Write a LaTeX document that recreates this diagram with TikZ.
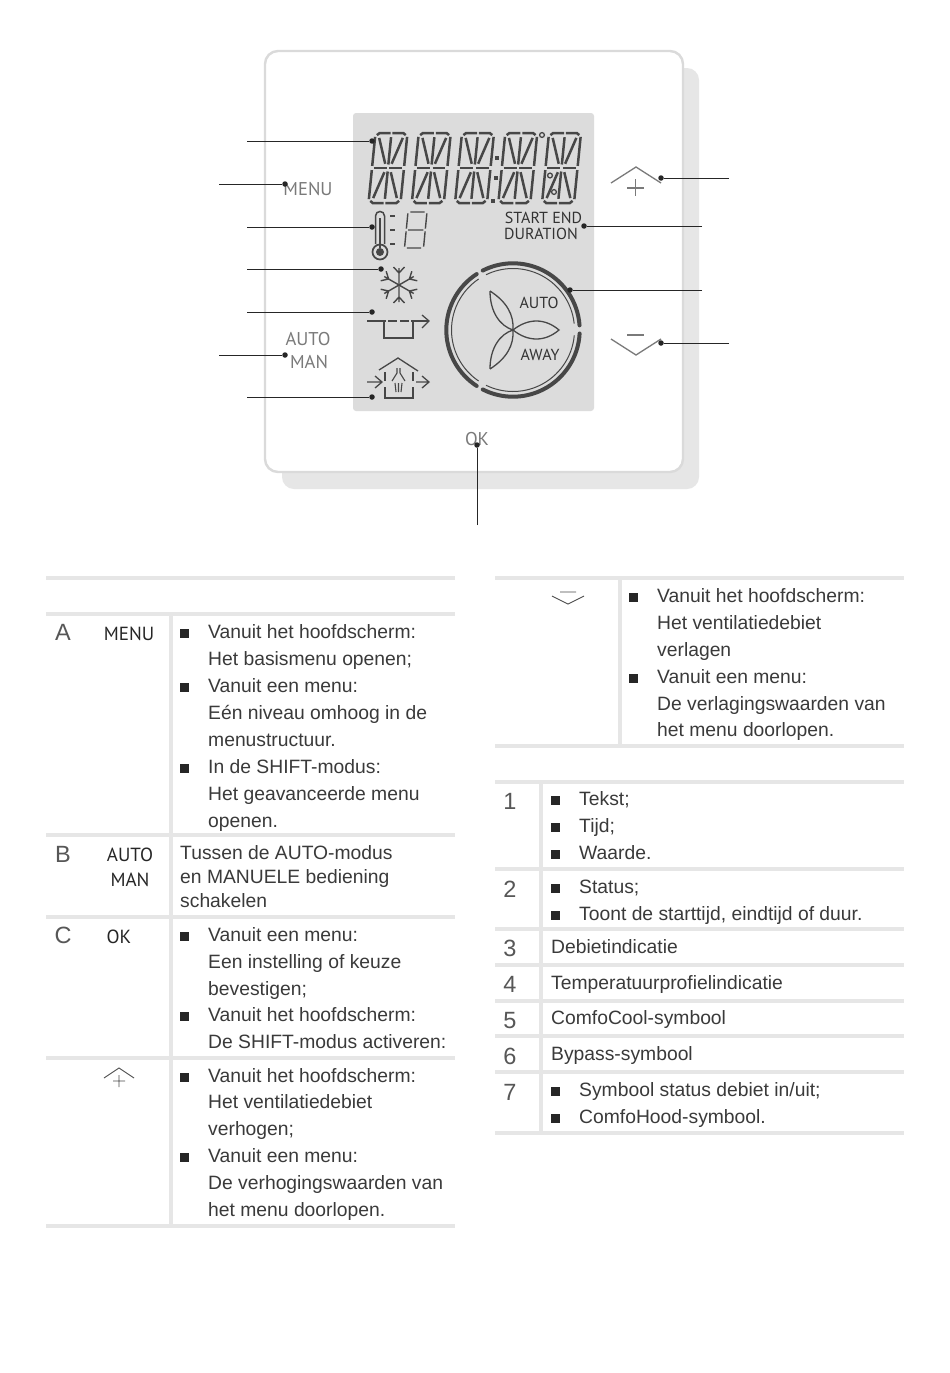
\documentclass[tikz,border=0pt]{standalone}
\usepackage{fontspec}
\setmainfont{Liberation Sans}
\newfontfamily\din{PT Sans}
\definecolor{rul}{HTML}{E6E6E6}
\definecolor{txt}{HTML}{3A3A3A}
\definecolor{lcdbg}{HTML}{DCDCDC}
\definecolor{lcdk}{HTML}{474747}
\definecolor{btn}{HTML}{7A7A7A}
\newcounter{tc}
\newcommand{\lin}[3]{\stepcounter{tc}\node[bodytxt] (t\arabic{tc}) at (#1,#2) {#3};}
\newcommand{\bul}[2]{\stepcounter{tc}\node[bulbox] (t\arabic{tc}) at (#1,#2-4.5) {};}
\newcommand{\bi}[3]{\bul{#1+.5}{#2}\lin{#1+24}{#2}{#3}}
\newcommand{\idx}[3]{\stepcounter{tc}\node[idxtxt] (t\arabic{tc}) at (#1,#2) {#3};}
\newcommand{\lcdseg}[2]{\begin{scope}[shift={(#1,#2)},x={(32pt,0pt)},y={(-7pt,-70pt)}]
\foreach \p in {
 {(.05,.03)--(.13,0)--(.47,0)},{(.53,0)--(.87,0)--(.95,.03)},
 {(0,.055)--(0,.47)},{(.13,.07)--(.4,.44)},{(.5,.06)--(.5,.45)},{(.87,.07)--(.6,.44)},{(1,.055)--(1,.47)},
 {(.06,.5)--(.46,.5)},{(.54,.5)--(.94,.5)},
 {(0,.53)--(0,.945)},{(.4,.56)--(.13,.93)},{(.5,.55)--(.5,.94)},{(.6,.56)--(.87,.93)},{(1,.53)--(1,.945)},
 {(.05,.97)--(.13,1)--(.47,1)},{(.53,1)--(.87,1)--(.95,.97)}}
 {\draw[seg] \p;}
\end{scope}}
\tikzset{
 bodytxt/.style={anchor=base west,inner sep=0pt,text=txt,font=\fontsize{19.3}{23}\selectfont},
 bulbox/.style={fill=black!85,minimum size=8.5pt,inner sep=0pt,draw=none},
 idxtxt/.style={anchor=base,inner sep=0pt,text=txt!85,font=\fontsize{23.5}{27}\selectfont},
 rule/.style={draw=rul,line width=3.4pt},
 seg/.style={draw=lcdk,line width=2.5pt},
 thin lcd/.style={draw=lcdk,line width=1.3pt},
 lead/.style={draw=black!85,line width=1pt},
 dotc/.style={circle,fill=black!85,minimum size=5.5pt,inner sep=0pt},
 devlab/.style={inner sep=0pt,text=btn,font=\din\fontsize{18.5}{20}\selectfont},
 tablab/.style={inner sep=0pt,text=black!85,font=\din\fontsize{19}{20}\selectfont},
 lcdlab/.style={inner sep=0pt,text=black!80,font=\din\fontsize{16}{17}\selectfont},
 btnline/.style={draw=btn,line width=1.3pt},
}
\begin{document}
\begin{tikzpicture}[x=1pt,y=-1pt]
\useasboundingbox (0,0) rectangle (950,1373);
\fill[white] (0,0) rectangle (950,1373);
% device
\fill[rul,rounded corners=12pt] (282,68) rectangle (699,489);
\draw[fill=white,draw=rul!95!black,line width=2.4pt,rounded corners=13pt] (265,51) rectangle (683,472);
\fill[lcdbg,rounded corners=3pt] (353,113) rectangle (594,411);
% LCD digits
\lcdseg{375.5}{133}\lcdseg{418.8}{133}\lcdseg{462}{133}\lcdseg{505.3}{133}\lcdseg{549}{133}
\fill[lcdk] (494.5,156) rectangle (498.5,160);
\fill[lcdk] (493.5,176) rectangle (497.5,180);
\fill[lcdk] (491,199) rectangle (495,203);
\draw[thin lcd] (542,135) circle (2.4);
\draw[thin lcd] (550,175.5) circle (2.4);
\draw[thin lcd] (554,192) circle (2.4);
% thermometer
\draw[thin lcd,line width=1.5pt] (375.5,244) -- (375.5,216) .. controls (375.5,210) and (384.5,210) .. (384.5,216) -- (384.5,244);
\draw[lcdk,line width=1.8pt] (380,218) -- (380,248);
\draw[thin lcd,line width=1.7pt] (380,252) circle (7.5);
\fill[lcdk] (380,252) circle (4);
\foreach \yy in {216,230,244}{\draw[seg,line width=1.6pt] (390,\yy) -- (395,\yy);}
% small seven-segment
\begin{scope}[shift={(408,212)},x={(19pt,0pt)},y={(-3.5pt,-36pt)}]
\draw[thin lcd,line width=1.4pt] (.12,0)--(.88,0) (1,.04)--(1,.46) (.1,.5)--(.9,.5) (0,.04)--(0,.46) (0,.54)--(0,.96) (1,.54)--(1,.96) (.12,1)--(.88,1);
\end{scope}
\node[lcdlab] (startend) at (543.5,217.5) {START END};
\node[lcdlab] (duration) at (541,233.5) {DURATION};
% snowflake
\begin{scope}[shift={(399,285)}]
\foreach \a in {90,210,330,270,30,150}{
 \begin{scope}[rotate=\a]
 \draw[lcdk,line width=1.4pt] (0,0)--(17,0) (12,0)--(18,5.5) (12,0)--(18,-5.5);
 \end{scope}}
\end{scope}
% bypass
\draw[thin lcd] (367,321)--(386,321) (388,321)--(397,321) (400,321)--(409,321) (411,321)--(429,321);
\draw[thin lcd] (384,321)--(384,338)--(413,338)--(413,321);
\draw[thin lcd] (422,315)--(429,321)--(422,328);
% house
\draw[thin lcd] (379,370)--(398,358)--(418,371);
\draw[thin lcd] (385,372)--(385,381) (385,387)--(385,398)--(413,398)--(413,387) (413,381)--(413,372);
\draw[thin lcd] (367,382)--(382,382) (375,376)--(382,382)--(375,388);
\draw[thin lcd] (416,382)--(429,382) (422,376)--(429,382)--(422,388);
\draw[thin lcd,line width=1.1pt] (397,368)--(397,373)--(392,381) (400,368)--(400,373)--(405,381);
\draw[thin lcd,line width=1.1pt] (395,383)--(396,392) (398.5,383)--(398.5,392) (402,383)--(401,392);
% fan
\begin{scope}[shift={(513,330)},x=1pt,y=1pt]
\draw[lcdk,line width=4pt,line cap=round] (4:66.7pt) arc[start angle=4,end angle=117,radius=66.7pt];
\draw[lcdk,line width=4pt,line cap=round] (-3:66.7pt) arc[start angle=-3,end angle=-117,radius=66.7pt];
\draw[lcdk,line width=4pt,line cap=round] (123:66.7pt) arc[start angle=123,end angle=237,radius=66.7pt];
\draw[lcdk,line width=1pt] (6:61.5pt) arc[start angle=6,end angle=116,radius=61.5pt];
\draw[lcdk,line width=1pt] (-5:61.5pt) arc[start angle=-5,end angle=-116,radius=61.5pt];
\draw[lcdk,line width=1pt] (124:61.5pt) arc[start angle=124,end angle=236,radius=61.5pt];
\end{scope}
\draw[thin lcd] (513,330) .. controls (528,318) and (545,318) .. (559,330) .. controls (545,342) and (528,342) .. (513,330);
\draw[thin lcd] (490,291) .. controls (507,302) and (514,315) .. (513,330) .. controls (500,326) and (490,312) .. (490,291);
\draw[thin lcd] (490,369) .. controls (507,358) and (514,345) .. (513,330) .. controls (500,334) and (490,348) .. (490,369);
\node[lcdlab] (auto) at (539,302.5) {AUTO};
\node[lcdlab] (away) at (540,355) {AWAY};
% device labels
\node[devlab] (menu) at (308,189) {MENU};
\node[devlab] (autod) at (308,339) {AUTO};
\node[devlab] (mand) at (309,362) {MAN};
\node[devlab] (okd) at (477,439) {OK};
% buttons
\draw[btnline] (611,183)--(636,167)--(661,183);
\draw[btnline] (635.5,179)--(635.5,196) (627,188)--(644,188);
\draw[btnline] (611,339)--(636,355)--(661,339);
\draw[btnline] (627,335)--(644,335);
% callouts
\foreach \n/\xa/\xb/\yy in {a/247/372/141,b/219/285/184,c/247/372/227,d/247/381/269,e/247/372/312,f/219/285/355,g/247/372/397,h/729/661/178,i/702/584/226,j/702/570/290,k/729/661/343}{
 \coordinate (free\n) at (\xa,\yy);
 \node[dotc] (dot\n) at (\xb,\yy) {};
 \draw[lead] (free\n) -- (dot\n);
}
\coordinate (freeok) at (477,525);
\node[dotc] (dotok) at (477,445) {};
\draw[lead] (freeok) -- (dotok);
% table rules
\foreach \yy in {578,614,835,917,1058,1226}{\draw[rule] (46,\yy)--(455,\yy);}
\draw[rule] (171,614)--(171,1226);
\foreach \yy in {578,746,782,869,929,965,1001,1036,1072,1133}{\draw[rule] (495,\yy)--(904,\yy);}
\draw[rule] (620,578)--(620,746);
\draw[rule] (541,782)--(541,1133);
% left table
\idx{63}{640}{A}\idx{63}{862}{B}\idx{63}{943}{C}
\node[tablab] (menut) at (129,634) {MENU};
\node[tablab] (autot) at (130,855) {AUTO};
\node[tablab] (mant) at (130,880) {MAN};
\node[tablab] (okt) at (119,937) {OK};
\draw[draw=black!70,line width=.9pt] (104,1078)--(119,1068)--(134,1078) (119,1075)--(119,1087) (113,1081)--(125,1081);
\bi{184}{638}{Vanuit het hoofdscherm:}
\lin{208}{665}{Het basismenu openen;}
\bi{184}{692}{Vanuit een menu:}
\lin{208}{719}{Eén niveau omhoog in de}
\lin{208}{746}{menustructuur.}
\bi{184}{773}{In de SHIFT-modus:}
\lin{208}{800}{Het geavanceerde menu}
\lin{208}{827}{openen.}
\lin{180}{859}{Tussen de AUTO-modus}
\lin{180}{883}{en MANUELE bediening}
\lin{180}{907}{schakelen}
\bi{184}{941}{Vanuit een menu:}
\lin{208}{968}{Een instelling of keuze}
\lin{208}{995}{bevestigen;}
\bi{184}{1021}{Vanuit het hoofdscherm:}
\lin{208}{1048}{De SHIFT-modus activeren:}
\bi{184}{1082}{Vanuit het hoofdscherm:}
\lin{208}{1108}{Het ventilatiedebiet}
\lin{208}{1135}{verhogen;}
\bi{184}{1162}{Vanuit een menu:}
\lin{208}{1189}{De verhogingswaarden van}
\lin{208}{1216}{het menu doorlopen.}
% right table
\draw[draw=black!70,line width=.9pt] (552,596)--(568,604)--(584,596) (560,592)--(576,592);
\bi{633}{602}{Vanuit het hoofdscherm:}
\lin{657}{629}{Het ventilatiedebiet}
\lin{657}{656}{verlagen}
\bi{633}{683}{Vanuit een menu:}
\lin{657}{710}{De verlagingswaarden van}
\lin{657}{736}{het menu doorlopen.}
\idx{510}{809}{1}\idx{510}{897}{2}\idx{510}{956}{3}\idx{510}{992}{4}\idx{510}{1028}{5}\idx{510}{1064}{6}\idx{510}{1100}{7}
\bi{555}{805}{Tekst;}
\bi{555}{832}{Tijd;}
\bi{555}{859}{Waarde.}
\bi{555}{893}{Status;}
\bi{555}{920}{Toont de starttijd, eindtijd of duur.}
\lin{551}{953}{Debietindicatie}
\lin{551}{989}{Temperatuurprofielindicatie}
\lin{551}{1024}{ComfoCool-symbool}
\lin{551}{1060}{Bypass-symbool}
\bi{555}{1096}{Symbool status debiet in/uit;}
\bi{555}{1123}{ComfoHood-symbool.}
\end{tikzpicture}
\end{document}
